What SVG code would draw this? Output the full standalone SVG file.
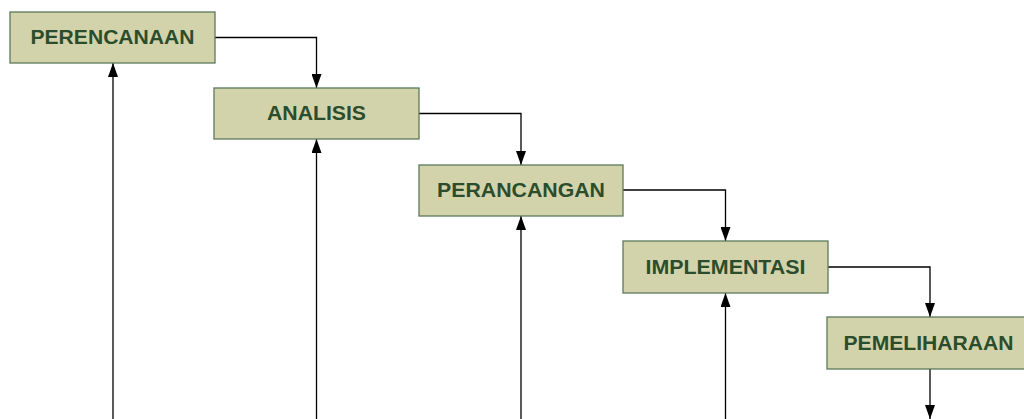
<svg xmlns="http://www.w3.org/2000/svg" width="1024" height="419" viewBox="0 0 1024 419">
  <style>
    .box { fill: #d3d3ab; stroke: #5b7a5b; stroke-width: 1.3; }
    .lbl { font-family: "Liberation Sans", Arial, sans-serif; font-weight: bold; font-size: 20px; fill: #2b4d2d; text-anchor: middle; }
    .edge { fill: none; stroke: #000; stroke-width: 1.3; marker-end: url(#ah); }
  </style>
  <defs>
    <marker id="ah" viewBox="0 0 14 10" refX="14" refY="5" markerWidth="14" markerHeight="10" markerUnits="userSpaceOnUse" orient="auto">
      <path d="M0,0 L14,5 L0,10 z" fill="#000"/>
    </marker>
  </defs>
  <rect width="1024" height="419" fill="#fff"/>
  <g id="connectors">
    <path class="edge" d="M215,37.5 H316.5 V88"/>
    <path class="edge" d="M419,113.5 H521 V165"/>
    <path class="edge" d="M623,190 H725.5 V241"/>
    <path class="edge" d="M828,267 H930 V317"/>
    <path class="edge" d="M930,369 V419"/>
    <path class="edge" d="M113,419 V63"/>
    <path class="edge" d="M316.5,419 V139"/>
    <path class="edge" d="M521,419 V216"/>
    <path class="edge" d="M725.5,419 V293"/>
  </g>
  <g id="perencanaan">
    <rect class="box" x="10" y="12" width="205" height="51"/>
    <text class="lbl" x="112.5" y="44" textLength="164" lengthAdjust="spacingAndGlyphs">PERENCANAAN</text>
  </g>
  <g id="analisis">
    <rect class="box" x="214" y="88" width="205" height="51"/>
    <text class="lbl" x="316.5" y="120" textLength="99" lengthAdjust="spacingAndGlyphs">ANALISIS</text>
  </g>
  <g id="perancangan">
    <rect class="box" x="419" y="165" width="204" height="51"/>
    <text class="lbl" x="521" y="197" textLength="168" lengthAdjust="spacingAndGlyphs">PERANCANGAN</text>
  </g>
  <g id="implementasi">
    <rect class="box" x="623" y="241" width="205" height="52"/>
    <text class="lbl" x="725.5" y="273.5" textLength="160" lengthAdjust="spacingAndGlyphs">IMPLEMENTASI</text>
  </g>
  <g id="pemeliharaan">
    <rect class="box" x="827" y="317" width="205" height="52"/>
    <text class="lbl" x="928.5" y="350" textLength="170" lengthAdjust="spacingAndGlyphs">PEMELIHARAAN</text>
  </g>
</svg>
